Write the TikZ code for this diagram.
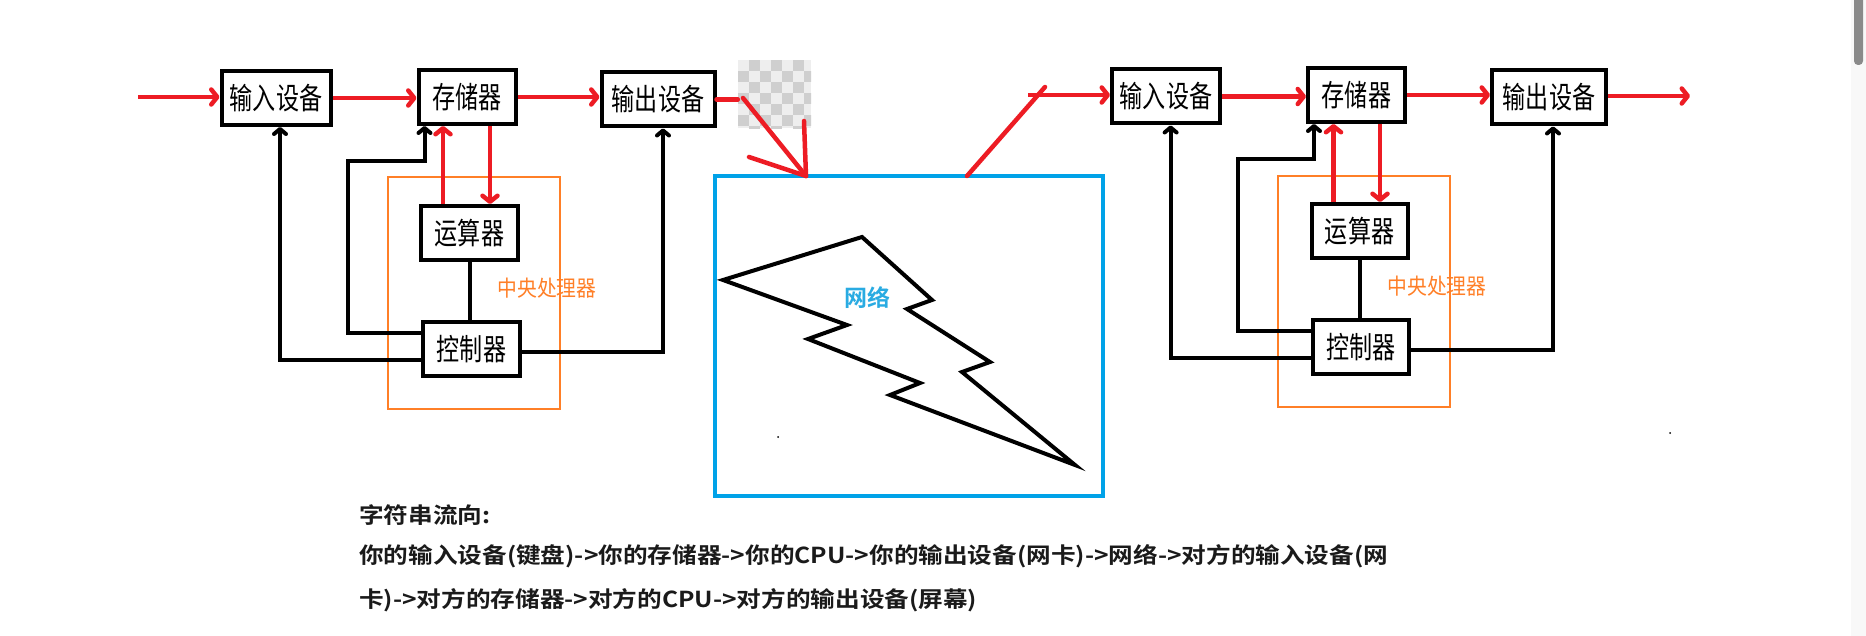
\documentclass[tikz,border=0pt]{standalone}
\usepackage{fontspec}
\usepackage{graphicx}
\newfontfamily\cjk{Noto Sans CJK SC}
\newfontfamily\cjkb{Noto Sans CJK SC Bold}
\usetikzlibrary{arrows.meta,calc}
\definecolor{pred}{HTML}{ED1C24}
\definecolor{porange}{HTML}{FF7F27}
\definecolor{pblue}{HTML}{00A2E8}
\definecolor{tblue}{HTML}{29ABE2}
\definecolor{chkA}{HTML}{EEEEEE}
\definecolor{chkB}{HTML}{CFCFCF}
\definecolor{sbar}{HTML}{8A8A8A}
\definecolor{stripc}{HTML}{F8F8F8}
\definecolor{btxt}{HTML}{1A1A1A}
\newcommand\boxlbl[1]{\scalebox{0.77}[1]{#1}}
\newcommand\wide[1]{\scalebox{1.12}[1]{#1}}
\begin{document}
\begin{tikzpicture}[x=1pt,y=-1pt,
  unitbox/.style={draw=black, line width=4pt, fill=white, inner sep=0pt,
    minimum height=54pt, font=\cjk\fontsize{30}{32}\selectfont},
  cpubox/.style={draw=porange, line width=2pt, inner sep=0pt},
  cpulbl/.style={font=\cjk\fontsize{22}{24}\selectfont, text=porange, inner sep=0pt},
  redarr/.style={draw=pred, line width=4.5pt, -{Straight Barb[length=6pt,width=15pt,round]}},
  redline/.style={draw=pred, line width=4.5pt, line cap=round},
  blkarr/.style={draw=black, line width=4pt, -{Straight Barb[length=5pt,width=12pt,round]}},
  blkline/.style={draw=black, line width=4pt},
  note/.style={anchor=west, inner sep=0pt, text=btxt, font=\cjkb\fontsize{22}{24}\selectfont}
]
\useasboundingbox (0,0) rectangle (1866,636);
\fill[white] (0,0) rectangle (1866,636);
% scrollbar
\fill[stripc] (1851,0) rectangle (1866,636);
\fill[sbar, rounded corners=4pt] (1854,-8) rectangle (1863,65);

% ---------- left computer ----------
\node[cpubox, minimum width=172pt, minimum height=232pt] (cpu1) at (473.5,293) {};
\node[cpulbl] (cpul1) at (547,288) {\scalebox{0.9}[1]{中央处理器}};
\node[unitbox, minimum width=109pt] (in1) at (276,98) {\boxlbl{输入设备}};
\node[unitbox, minimum width=97pt] (st1) at (467,97) {\boxlbl{存储器}};
\node[unitbox, minimum width=113pt] (out1) at (658,99.5) {\boxlbl{输出设备}};
\node[unitbox, minimum width=97pt] (alu1) at (469.5,233) {\boxlbl{运算器}};
\node[unitbox, minimum width=97pt] (ctl1) at (471.5,349) {\boxlbl{控制器}};

\coordinate (src1) at (138,97);
\draw[redarr] (src1) -- (src1 -| in1.west);
\draw[redarr] (in1.east) -- (in1.east -| st1.west);
\draw[redarr] (st1.east) -- (st1.east -| out1.west);
\coordinate (up1) at (443,0);
\coordinate (dn1) at (490,0);
\draw[redarr] (alu1.north -| up1) -- (st1.south -| up1);
\draw[redarr] (st1.south -| dn1) -- (alu1.north -| dn1);
\draw[blkline] (alu1.south) -- (alu1.south |- ctl1.north);
\draw[blkarr] ([yshift=-11pt]ctl1.west) -| ([xshift=4pt]in1.south);
\coordinate (k1) at (348,161);
\draw[blkarr] ([yshift=16pt]ctl1.west) -| (k1) -| ([xshift=8pt]st1.south west);
\draw[blkarr] ([yshift=-3pt]ctl1.east) -| ([xshift=5pt]out1.south);

% ---------- network ----------
\node[inner sep=0pt, minimum width=73pt, minimum height=68pt, fill=chkA] (chk) at (774.5,94) {};
\begin{scope}
  \clip (chk.north west) rectangle (chk.south east);
  \foreach \i in {0,...,6} {
    \foreach \j in {0,...,6} {
      \pgfmathtruncatemacro\chkm{mod(\i+\j,2)}
      \ifnum\chkm=1
        \fill[chkB] (738+11*\i,60+11*\j) rectangle ++(11,11);
      \fi
    }
  }
\end{scope}
\draw[redline] (out1.east) -- (out1.east -| chk.west);

\node[draw=pblue, line width=4.5pt, inner sep=0pt, minimum width=388pt, minimum height=320pt] (net) at (909,336) {};
\coordinate (tipL) at (806,176);
\coordinate (a0) at (743,98);
\coordinate (a1) at (804,121);
\coordinate (a2) at (749,157);
\draw[redline] (a0) -- (tipL);
\draw[redline] (a1) -- (tipL);
\draw[redline] (a2) -- (tipL);
\coordinate (tipR) at (967,176);
\coordinate (kinkR) at (1045,87);
\draw[redline] (tipR) -- (kinkR);

\draw[black, line width=4pt, line join=miter, miter limit=20]
  (723,280) -- (862,237) -- (932,300) -- (907,309) -- (990,362) -- (962,372)
  -- (1075,465) -- (890,395) -- (920,383) -- (808,339) -- (847,325) -- cycle;
\node[font=\cjkb\fontsize{23}{25}\selectfont, text=tblue, inner sep=0pt] (netl) at (867,298) {网络};
\fill[black] (778,437) circle (1pt);
\fill[black] (1670,433) circle (1pt);

% ---------- right computer ----------
\node[cpubox, minimum width=172pt, minimum height=231pt] (cpu2) at (1363.5,291.4) {};
\node[cpulbl] (cpul2) at (1437,286) {\scalebox{0.9}[1]{中央处理器}};
\node[unitbox, minimum width=108pt] (in2) at (1166,96.5) {\boxlbl{输入设备}};
\node[unitbox, minimum width=97pt] (st2) at (1356.5,95) {\boxlbl{存储器}};
\node[unitbox, minimum width=114pt] (out2) at (1549,97.5) {\boxlbl{输出设备}};
\node[unitbox, minimum width=96pt] (alu2) at (1359.6,231) {\boxlbl{运算器}};
\node[unitbox, minimum width=96pt] (ctl2) at (1361,347) {\boxlbl{控制器}};

\coordinate (srcR) at (1028,95);
\draw[redarr] (srcR) -- (srcR -| in2.west);
\draw[redarr] (in2.east) -- (in2.east -| st2.west);
\draw[redarr] (st2.east) -- (st2.east -| out2.west);
\coordinate (sink2) at (1690,96);
\draw[redarr] (out2.east |- sink2) -- (sink2);
\coordinate (up2) at (1333.5,0);
\coordinate (dn2) at (1380,0);
\draw[redarr] (alu2.north -| up2) -- (st2.south -| up2);
\draw[redarr] (st2.south -| dn2) -- (alu2.north -| dn2);
\draw[blkline] (alu2.south) -- (alu2.south |- ctl2.north);
\draw[blkarr] ([yshift=-11pt]ctl2.west) -| ([xshift=4.6pt]in2.south);
\coordinate (k2) at (1237.6,159);
\draw[blkarr] ([yshift=16pt]ctl2.west) -| (k2) -| ([xshift=8pt]st2.south west);
\draw[blkarr] ([yshift=-3pt]ctl2.east) -| ([xshift=4pt]out2.south);

% ---------- notes ----------
\node[note] (t1) at (359,515) {\wide{字符串流向:}};
\node[note] (t2) at (359,556) {\wide{你的输入设备(键盘)->你的存储器->你的CPU->你的输出设备(网卡)->网络->对方的输入设备(网}};
\node[note] (t3) at (359,600) {\wide{卡)->对方的存储器->对方的CPU->对方的输出设备(屏幕)}};
\end{tikzpicture}
\end{document}
